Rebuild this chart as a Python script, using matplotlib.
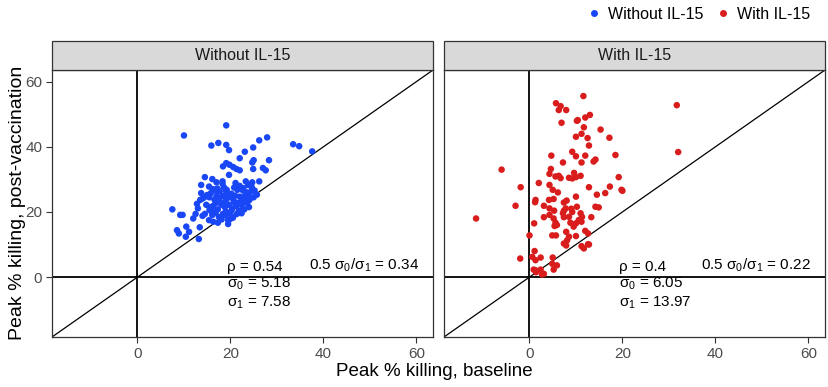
import matplotlib
matplotlib.use("Agg")
import matplotlib.pyplot as plt
from matplotlib.patches import Rectangle
from matplotlib.lines import Line2D

plt.rcParams['font.family'] = ['Liberation Sans', 'DejaVu Sans']
plt.rcParams['mathtext.fontset'] = 'custom'
plt.rcParams['mathtext.rm'] = 'Liberation Sans'
plt.rcParams['mathtext.it'] = 'Liberation Sans'

# peak % killing: baseline (x) vs post-vaccination (y)
wo_x = [19.1, 10.0, 15.9, 17.4, 19.1, 19.7, 26.2, 27.9, 24.9, 23.1, 22.0, 33.5, 34.8, 37.6,
        28.3, 24.7, 25.0, 18.4, 19.1, 19.8, 20.6, 21.3, 22.0, 27.0, 27.6, 24.9, 19.7, 14.5,
        16.1, 18.3, 21.1, 13.7, 23.3, 23.8, 24.7, 26.2, 15.4, 16.3, 17.0, 17.7, 13.7, 14.1,
        19.1, 20.2, 22.7, 23.6, 24.5, 25.2, 25.7, 15.5, 16.6, 17.6, 18.3, 19.1, 20.0, 20.7,
        22.0, 22.6, 23.3, 24.1, 25.0, 14.8, 15.5, 16.3, 17.3, 18.1, 18.8, 19.7, 20.4, 21.3,
        22.4, 23.6, 24.0, 7.5, 9.2, 9.7, 12.5, 13.0, 14.0, 14.5, 15.5, 16.1, 16.8, 17.5,
        18.4, 19.0, 19.8, 20.6, 20.2, 15.4, 16.3, 17.3, 18.1, 19.5, 19.5, 21.4, 22.4, 13.4,
        10.5, 11.1, 8.5, 8.9, 10.4, 13.2, 13.5, 17.0, 23.1, 24.0, 18.3, 22.0, 16.9, 21.0,
        17.8, 20.9, 19.2, 15.0, 12.8, 21.8, 18.6, 16.0, 23.0, 20.5, 18.9, 17.2, 22.8,
        17.5, 19.5, 21.5, 16.0, 18.9, 22.6, 20.8, 14.8, 23.8, 17.0, 21.9, 19.9, 15.8,
        24.6, 12.0]
wo_y = [46.6, 43.5, 40.4, 41.2, 40.6, 39.0, 42.0, 42.9, 39.8, 38.5, 36.5, 40.8, 40.2, 38.6,
        35.9, 35.2, 35.9, 34.0, 35.0, 34.5, 33.8, 33.2, 32.8, 33.5, 32.8, 33.2, 31.4, 30.7,
        30.1, 29.4, 28.9, 28.3, 29.4, 28.3, 29.1, 29.4, 27.8, 27.0, 26.4, 26.3, 25.8, 24.2,
        26.3, 25.6, 26.6, 26.0, 26.3, 26.6, 25.3, 24.5, 23.7, 24.2, 24.9, 23.9, 24.5, 23.5,
        24.7, 23.7, 23.2, 23.7, 24.5, 22.2, 21.5, 21.9, 20.8, 22.2, 21.5, 22.2, 21.1, 21.9,
        22.2, 22.7, 21.5, 20.8, 19.1, 19.1, 19.4, 21.1, 18.8, 19.4, 20.6, 19.1, 19.8, 18.5,
        19.4, 20.1, 19.6, 18.5, 20.4, 17.5, 17.0, 16.7, 17.7, 17.5, 16.3, 19.4, 19.6, 15.3,
        15.5, 13.9, 14.4, 13.4, 12.4, 11.7, 23.7, 29.1, 24.9, 24.5, 28.7, 28.0, 22.8, 25.0,
        23.0, 22.9, 26.8, 25.2, 22.5, 20.3, 27.6, 20.0, 20.8, 18.2, 23.1, 27.2, 27.3,
        23.0, 25.5, 26.8, 21.0, 19.0, 21.0, 27.5, 24.8, 25.3, 24.8, 22.9, 17.8, 25.8,
        27.6, 18.0]

w_x = [11.6, 5.7, 6.7, 6.3, 7.9, 6.9, 10.2, 10.4, 12.0, 13.0, 11.7, 15.3, 17.2, 10.0,
       11.2, 12.5, 12.8, 9.2, 10.0, 12.0, 14.2, 13.8, 18.5, 4.7, 7.2, 11.2, 4.6, 4.3,
       5.6, 6.3, 6.7, 8.5, 9.2, 10.0, 11.0, -6.0, -1.9, 2.0, 4.3, 5.0, 12.8, 19.2,
       17.3, 16.3, 14.5, 19.8, 10.0, 1.3, 4.2, 5.2, -3.0, 3.1, 4.3, 5.3, 7.4, 7.8,
       7.4, 10.2, 9.0, 9.2, 11.0, 11.3, 14.2, 14.9, 13.3, 3.1, 4.3, 5.2, 5.6, 5.4,
       5.9, 7.2, 7.4, 8.5, 8.8, 9.5, 10.0, 10.6, 11.2, 1.0, 0.0, 4.9, 5.7, 7.9,
       8.5, 8.1, 10.0, 12.0, 12.6, 7.4, 7.9, 11.2, 11.7, 12.6, -2.0, 1.1, 0.6, 1.3,
       2.4, 5.0, 4.9, 5.9, 0.9, 1.4, 2.4, 2.7, 5.2, 31.7, 32.0, -11.5, 1.3, 3.1,
       12.8, 20.0, 1.2, 6.1, 9.6, 8.0]
w_y = [55.6, 53.4, 52.5, 51.3, 51.3, 47.4, 48.0, 48.2, 49.0, 49.8, 46.0, 45.3, 42.8, 43.1,
       44.0, 42.7, 40.4, 38.5, 37.1, 37.3, 36.1, 35.5, 37.5, 37.3, 35.2, 35.2, 33.2, 31.7,
       30.9, 31.1, 30.4, 30.5, 30.3, 30.7, 31.1, 33.0, 27.6, 28.9, 28.3, 26.8, 27.6, 30.7,
       27.8, 25.8, 25.3, 26.8, 24.7, 23.7, 23.7, 24.0, 21.9, 21.9, 21.1, 20.4, 22.9, 21.1,
       20.4, 21.6, 21.0, 20.0, 19.6, 18.5, 21.6, 21.4, 18.4, 18.4, 19.1, 18.0, 16.7, 15.7,
       16.0, 19.6, 18.4, 18.5, 16.7, 15.5, 16.5, 17.5, 17.0, 16.5, 12.8, 12.8, 12.8, 13.9,
       12.4, 11.3, 12.6, 14.2, 13.4, 10.3, 9.7, 9.5, 8.8, 10.1, 5.7, 8.0, 6.2, 5.2,
       6.0, 6.0, 4.1, 3.6, 2.3, 1.5, 2.3, 0.8, 2.3, 52.8, 38.4, 18.0, 2.1, 1.0,
       10.0, 26.5, 23.0, 26.0, 32.0, 23.5]

panels = ['Without IL-15', 'With IL-15']
colors = ['#1a47f5', '#d91d1d']
rho = ['0.54', '0.4']
ratio = ['0.34', '0.22']
sigma0 = ['5.18', '6.05']
sigma1 = ['7.58', '13.97']
lim = (-18.4, 63.6)
ticks = [0, 20, 40, 60]

fig = plt.figure(figsize=(8.29, 3.87), dpi=100)
W, H = 829, 387
lefts = [52, 444]
for i, (xs, ys) in enumerate([(wo_x, wo_y), (w_x, w_y)]):
    ax = fig.add_axes([lefts[i] / W, 50 / H, 381 / W, 267 / H])
    ax.set_xlim(lim)
    ax.set_ylim(lim)
    ax.axhline(0, color='black', lw=1.3, zorder=1)
    ax.axvline(0, color='black', lw=1.3, zorder=1)
    ax.axline((0, 0), slope=1, color='black', lw=0.9, zorder=1)
    ax.scatter(xs, ys, s=22, color=colors[i], edgecolors='none', zorder=3)
    ax.set_xticks(ticks)
    ax.set_yticks(ticks)
    ax.tick_params(direction='out', length=4, width=0.8, color='#333333',
                   labelsize=11, labelcolor='#4d4d4d', pad=3)
    if i == 1:
        ax.tick_params(axis='y', left=False, labelleft=False)
    for sp in ax.spines.values():
        sp.set_color('#333333')
        sp.set_linewidth(0.9)
    ax.text(19.3, 0.9, 'ρ = ' + rho[i], fontsize=11, ha='left', va='bottom')
    ax.text(37.0, 0.9, '0.5 σ$_0$/σ$_1$ = ' + ratio[i], fontsize=11, ha='left', va='bottom')
    ax.text(19.3, -2.1, 'σ$_0$ = ' + sigma0[i], fontsize=11, ha='left', va='center')
    ax.text(19.3, -7.8, 'σ$_1$ = ' + sigma1[i], fontsize=11, ha='left', va='center')
    # facet strip
    fig.patches.append(Rectangle((lefts[i] / W, (H - 70) / H), 381 / W, 29 / H,
                                 transform=fig.transFigure, facecolor='#d9d9d9',
                                 edgecolor='#333333', lw=0.9))
    fig.text((lefts[i] + 190.5) / W, (H - 55.5) / H, panels[i], ha='center', va='center',
             fontsize=11.5, color='#1a1a1a')

fig.text(18 / W, (H - 203) / H, 'Peak % killing, post-vaccination', rotation=90,
         ha='center', va='center', fontsize=14)
fig.text(434 / W, (H - 372) / H, 'Peak % killing, baseline', ha='center', va='center',
         fontsize=13.5)

handles = [Line2D([], [], marker='o', ls='none', color=c, markersize=4) for c in colors]
fig.legend(handles, panels, loc='upper right', bbox_to_anchor=(0.995, 1.02), ncol=2,
           frameon=False, fontsize=11.5, handletextpad=0.3, columnspacing=0.6,
           handlelength=1.2)

fig.savefig('out.png', dpi=100)
